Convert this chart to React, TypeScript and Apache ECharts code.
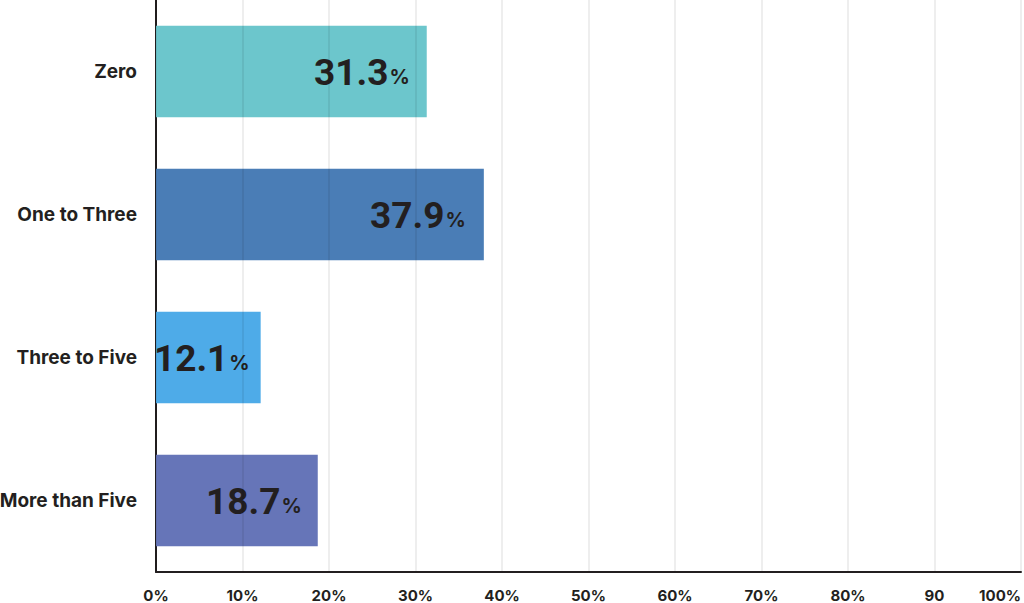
import React, { useEffect, useRef } from "react";
import * as echarts from "echarts";

const categories = ["Zero", "One to Three", "Three to Five", "More than Five"];
const values = [31.3, 37.9, 12.1, 18.7];
const barColors = ["#6cc6cc", "#4a7db6", "#4eabe8", "#6675b8"];
const labelInset = [17, 18, 11, 16];
const tickLabels = ["0%", "10%", "20%", "30%", "40%", "50%", "60%", "70%", "80%", "90", "100%"];

const FONT = "Inter, 'Noto Sans', sans-serif";
const NUM_FONT = "Roboto, 'Liberation Sans', sans-serif";
const INK = "#231f20";

export default function App() {
  const ref = useRef<HTMLDivElement>(null);
  useEffect(() => {
    if (!ref.current) return;
    const chart = echarts.init(ref.current, undefined, { renderer: "svg" });
    chart.setOption({
      animation: false,
      backgroundColor: "#ffffff",
      grid: {
        left: 156,
        right: 3,
        top: 0,
        bottom: 31,
        containLabel: false,
        outerBoundsMode: "none",
      },
      xAxis: {
        type: "value",
        min: 0,
        max: 100,
        interval: 10,
        z: 5,
        axisLine: { show: true, onZero: false, lineStyle: { color: INK, width: 2 } },
        axisTick: { show: false },
        splitLine: { show: true, lineStyle: { color: "rgba(0,0,0,0.09)", width: 1.5 } },
        axisLabel: {
          margin: 16,
          fontFamily: FONT,
          fontSize: 15,
          fontWeight: 700,
          color: INK,
          alignMaxLabel: "right",
          formatter: (v: number) => tickLabels[Math.round(v / 10)] ?? "",
        },
      },
      yAxis: {
        type: "category",
        data: categories,
        inverse: true,
        axisLine: { show: true, lineStyle: { color: INK, width: 2 } },
        axisTick: { show: false },
        splitLine: { show: false },
        axisLabel: {
          margin: 19,
          fontFamily: FONT,
          fontSize: 19,
          fontWeight: 700,
          color: INK,
        },
      },
      series: [
        {
          type: "bar",
          barCategoryGap: "36%",
          data: values.map((v, i) => ({
            value: v,
            itemStyle: { color: barColors[i] },
            label: { distance: labelInset[i] },
          })),
          label: {
            show: true,
            position: "insideRight",
            formatter: (p: any) => `{a|${p.value.toFixed(1)}}{b|%}`,
            rich: {
              a: {
                fontFamily: NUM_FONT,
                fontSize: 37,
                fontWeight: 700,
                color: INK,
                lineHeight: 38,
                verticalAlign: "bottom",
              },
              b: {
                fontFamily: FONT,
                fontSize: 20,
                fontWeight: 700,
                color: INK,
                lineHeight: 20,
                verticalAlign: "bottom",
                padding: [0, 0, 4, 1],
              },
            },
          },
        },
      ],
    });
    return () => chart.dispose();
  }, []);
  return (
    <div
      ref={ref}
      style={{ position: "fixed", left: 0, top: 0, width: 1024, height: 603, background: "#fff" }}
    />
  );
}
